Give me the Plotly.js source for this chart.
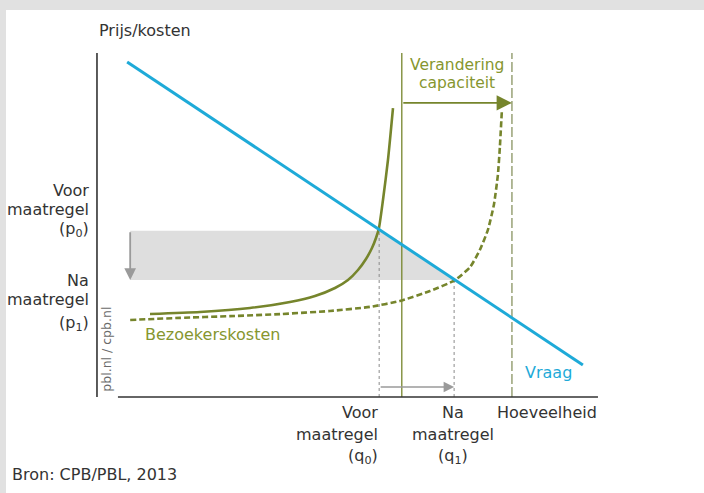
<!DOCTYPE html>
<html>
<head>
<meta charset="utf-8">
<script src="https://cdn.plot.ly/plotly-3.0.1.min.js"></script>
<style>html,body{margin:0;padding:0;background:#fff;}#chart{width:704px;height:493px;}</style>
</head>
<body>
<div id="chart"></div>
<script>
// Conceptual diagram: quantity (q) on x, price/cost (p) on y, both 0..100
const qDemand = [6.0, 96.6];
const pDemand = [97.4, 9.3];

const qCostBefore = [10.54, 20.48, 30.42, 38.37, 43.34, 47.32, 49.90, 51.89, 53.48, 54.67, 55.47, 56.06, 56.86, 57.85, 58.85];
const pCostBefore = [24.13, 24.71, 25.87, 27.62, 29.36, 31.69, 34.01, 36.92, 40.12, 43.31, 46.22, 49.13, 57.27, 68.90, 84.01];

const qCostAfter = [6.6, 16.5, 26.4, 36.4, 46.3, 54.3, 60.2, 66.2, 71.2, 74.2, 76.1, 77.7, 78.9, 79.7, 80.1, 80.5];
const pCostAfter = [22.4, 23.0, 23.5, 24.1, 25.0, 26.2, 27.9, 30.8, 34.0, 37.8, 42.7, 48.5, 55.8, 64.5, 72.7, 83.4];

const q0 = 56.1, p0 = 48.3;   // before measure
const q1 = 71.0, p1 = 34.0;   // after measure
const capBefore = 60.6, capAfter = 82.5;
const qBandStart = 6.6;

const labelsP0 = ["Voor", "maatregel", "(p<sub>0</sub>)"];
const labelsP1 = ["Na", "maatregel", "(p<sub>1</sub>)"];
const labelsQ0 = ["Voor", "maatregel", "(q<sub>0</sub>)"];
const labelsQ1 = ["Na", "maatregel", "(q<sub>1</sub>)"];

const OLIVE = '#76852c', OLIVE_TXT = '#86962f', BLUE = '#1eaad8', GREY = '#9a9a9a', TXT = '#333333';
const FONT = 'DejaVu Sans';

const slope = (pDemand[1] - pDemand[0]) / (qDemand[1] - qDemand[0]);
const qAt = p => qDemand[0] + (p - pDemand[0]) / slope;

const traces = [
  { x: [qBandStart, qAt(p0), qAt(p1), qBandStart, qBandStart], y: [p0, p0, p1, p1, p0],
    fill: 'toself', fillcolor: '#dedede', mode: 'none', hoverinfo: 'skip' },
  { x: [q0, q0], y: [0, p0], mode: 'lines', line: {color: '#8a8a8a', width: 1, dash: 'dot'}, hoverinfo: 'skip' },
  { x: [q1, q1], y: [0, p1], mode: 'lines', line: {color: '#8a8a8a', width: 1, dash: 'dot'}, hoverinfo: 'skip' },
  { x: [capBefore, capBefore], y: [0, 100], mode: 'lines', line: {color: OLIVE, width: 1.3}, hoverinfo: 'skip' },
  { x: [capAfter, capAfter], y: [0, 100], mode: 'lines', line: {color: '#7f8a55', width: 1.2, dash: '10px,3px'}, hoverinfo: 'skip' },
  { x: qCostBefore, y: pCostBefore, mode: 'lines', line: {color: OLIVE, width: 2.6, shape: 'spline', smoothing: 0.6}, hoverinfo: 'skip' },
  { x: qCostAfter, y: pCostAfter, mode: 'lines', line: {color: OLIVE, width: 2.6, shape: 'spline', smoothing: 0.5, dash: '6px,3px'}, hoverinfo: 'skip' },
  { x: qDemand, y: pDemand, mode: 'lines', line: {color: BLUE, width: 3}, hoverinfo: 'skip' }
];

function txt(x, y, text, opts) {
  return Object.assign({ x: x, y: y, xref: 'x', yref: 'y', text: text, showarrow: false,
    font: {family: FONT, size: 16, color: TXT}, xanchor: 'center', yanchor: 'middle' }, opts || {});
}
function arrow(x, y, ax, ay, color, w, size) {
  return { x: x, y: y, ax: ax, ay: ay, xref: 'x', yref: 'y', axref: 'x', ayref: 'y', text: '',
    showarrow: true, arrowhead: 2, arrowsize: size, arrowwidth: w, arrowcolor: color, standoff: 0, startstandoff: 0 };
}

const annotations = [
  txt(0, 106.4, 'Prijs/kosten', {xanchor: 'left'}),
  txt(9.15, 18.3, 'Bezoekerskosten', {xanchor: 'left', font: {family: FONT, size: 16, color: OLIVE_TXT}}),
  txt(71.5, 96.6, 'Verandering', {font: {family: FONT, size: 15.5, color: OLIVE_TXT}}),
  txt(71.5, 91.4, 'capaciteit', {font: {family: FONT, size: 15.5, color: OLIVE_TXT}}),
  txt(89.8, 7.0, 'Vraag', {font: {family: FONT, size: 16, color: BLUE}}),
  txt(89.4, -4.4, 'Hoeveelheid'),
  txt(-17.3, -22.5, 'Bron: CPB/PBL, 2013', {xanchor: 'left'}),
  txt(1.95, 14.0, 'pbl.nl / cpb.nl', {textangle: -90, font: {family: FONT, size: 12.5, color: '#6a6a6a'}}),
  arrow(capAfter, 85.5, capBefore, 85.5, OLIVE, 1.8, 1.7),
  arrow(q1, 2.9, q0, 2.9, GREY, 1.5, 1.4),
  arrow(qBandStart, p1, qBandStart, p0, GREY, 1.8, 1.3)
];
const pYs = [59.9, 54.4, 48.8], p1Ys = [33.8, 28.2, 21.5];
labelsP0.forEach((t, i) => annotations.push(txt(-1.2, pYs[i], t, {xanchor: 'right'})));
labelsP1.forEach((t, i) => annotations.push(txt(-1.2, p1Ys[i], t, {xanchor: 'right'})));
const qYs = [-4.4, -10.8, -17.4];
labelsQ0.forEach((t, i) => annotations.push(txt(56.2, qYs[i], t, {xanchor: 'right'})));
labelsQ1.forEach((t, i) => annotations.push(txt(70.8, qYs[i], t)));

const shapes = [
  {type: 'rect', xref: 'paper', yref: 'paper', x0: 6/704, x1: 1, y0: 0, y1: 1 - 10/493,
   fillcolor: '#ffffff', line: {width: 0}, layer: 'below'},
  {type: 'line', xref: 'x', yref: 'y', x0: 0, x1: 0, y0: 0, y1: 100, line: {color: '#333', width: 1.6}},
  {type: 'line', xref: 'x', yref: 'y', x0: 4.17, x1: 99.6, y0: 0, y1: 0, line: {color: '#333', width: 1.6}}
];

const layout = {
  width: 704, height: 493,
  margin: {l: 0, r: 0, t: 0, b: 0, pad: 0},
  paper_bgcolor: '#e1e1e1', plot_bgcolor: 'rgba(0,0,0,0)',
  showlegend: false,
  xaxis: {range: [-19.28, 120.68], visible: false, fixedrange: true},
  yaxis: {range: [-27.91, 115.41], visible: false, fixedrange: true},
  annotations: annotations, shapes: shapes
};

Plotly.newPlot('chart', traces.map(t => Object.assign({showlegend: false}, t)), layout, {displayModeBar: false, staticPlot: true});
</script>
</body>
</html>
